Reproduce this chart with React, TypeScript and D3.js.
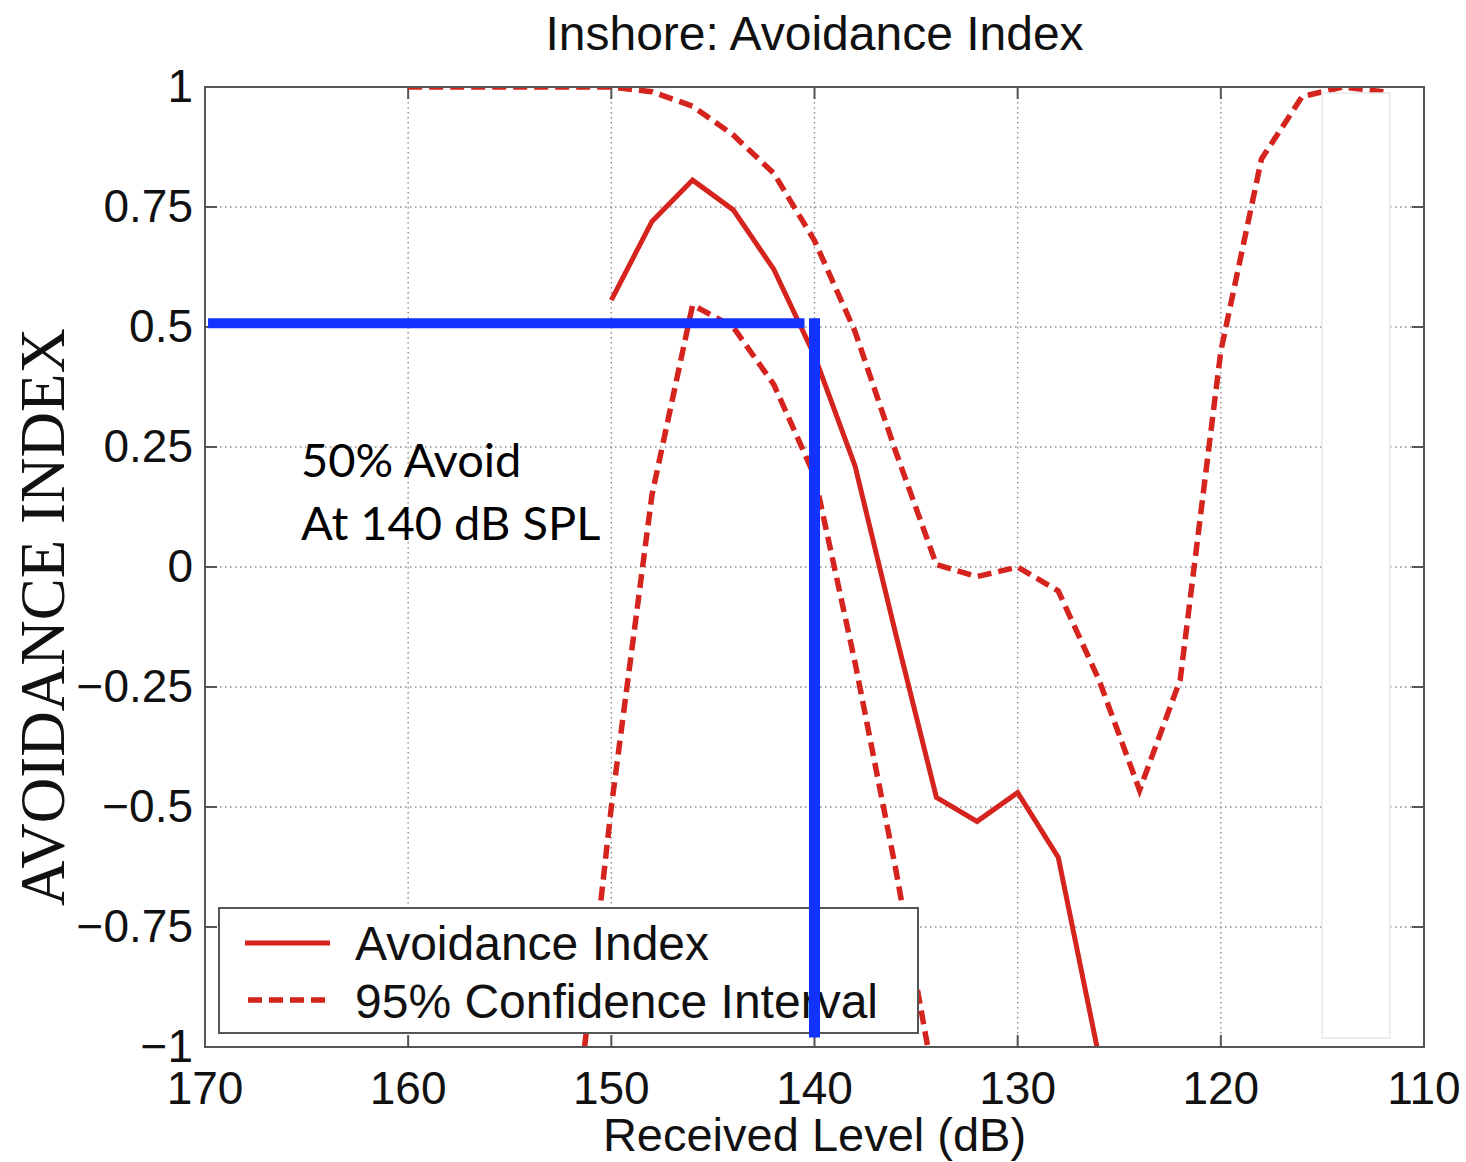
import React from "react";
import * as d3 from "d3";

const xTicks = [170, 160, 150, 140, 130, 120, 110];
const yTicks = [1, 0.75, 0.5, 0.25, 0, -0.25, -0.5, -0.75, -1];
const yTickLabels = ["1", "0.75", "0.5", "0.25", "0", "\u22120.25", "\u22120.5", "\u22120.75", "\u22121"];

const aiLevels = [150, 148, 146, 144, 142, 140, 138, 136, 134, 132, 130, 128, 126];
const aiValues = [0.556, 0.72, 0.806, 0.744, 0.62, 0.44, 0.21, -0.14, -0.48, -0.53, -0.47, -0.605, -1.02];

const ciUpperLevels = [160, 158, 156, 154, 152, 150, 148, 146, 144, 142, 140, 138, 136, 134, 132, 130, 128, 126, 124, 122, 120, 118, 116, 114, 112];
const ciUpperValues = [1, 1, 1, 1, 1, 1, 0.99, 0.96, 0.9, 0.82, 0.68, 0.49, 0.24, 0.005, -0.02, 0.0, -0.05, -0.235, -0.465, -0.235, 0.45, 0.85, 0.98, 1.0, 0.99];

const ciLowerLevels = [152, 150, 148, 146, 144, 142, 140, 138, 136, 134];
const ciLowerValues = [-1.26, -0.5, 0.15, 0.546, 0.5, 0.38, 0.19, -0.2, -0.63, -1.1];

const title = "Inshore: Avoidance Index";
const xLabel = "Received Level (dB)";
const yLabel = "AVOIDANCE INDEX";
const legendLabels = ["Avoidance Index", "95% Confidence Interval"];
const annotLines = ["50% Avoid", "At 140 dB SPL"];
const markLevel = 140;
const markValue = 0.508;
const markBottom = -0.98;

const W = 1466;
const H = 1162;
const L = 205, R = 1424, T = 87, B = 1047;
const RED = "#d5231d";
const BLUE = "#1232ff";
const SANS = "'Liberation Sans', Arial, Helvetica, sans-serif";

export default function App() {
  const x = d3.scaleLinear().domain([170, 110]).range([L, R]);
  const y = d3.scaleLinear().domain([-1, 1]).range([B, T]);
  const line = d3.line<[number, number]>().x((d) => x(d[0])).y((d) => y(d[1]));
  const ai = line(aiLevels.map((l, i) => [l, aiValues[i]]));
  const up = line(ciUpperLevels.map((l, i) => [l, ciUpperValues[i]]));
  const lo = line(ciLowerLevels.map((l, i) => [l, ciLowerValues[i]]));
  const tick = 12;

  return (
    <svg width={W} height={H} style={{ position: "absolute", left: 0, top: 0, background: "#fff" }}>
      <defs>
        <clipPath id="plot">
          <rect x={L} y={T} width={R - L} height={B - T} />
        </clipPath>
      </defs>
      <rect x={0} y={0} width={W} height={H} fill="#fff" />
      {xTicks.slice(1, -1).map((t) => (
        <line key={"gx" + t} x1={x(t)} x2={x(t)} y1={T} y2={B} stroke="#8a8a8a" strokeWidth={1.4} strokeDasharray="1.5,3.5" />
      ))}
      {yTicks.slice(1, -1).map((t) => (
        <line key={"gy" + t} x1={L} x2={R} y1={y(t)} y2={y(t)} stroke="#8a8a8a" strokeWidth={1.4} strokeDasharray="1.5,3.5" />
      ))}
      {xTicks.map((t) => (
        <g key={"tx" + t}>
          <line x1={x(t)} x2={x(t)} y1={B} y2={B - tick} stroke="#555" strokeWidth={2} />
          <line x1={x(t)} x2={x(t)} y1={T} y2={T + tick} stroke="#555" strokeWidth={2} />
        </g>
      ))}
      {yTicks.map((t) => (
        <g key={"ty" + t}>
          <line x1={L} x2={L + tick} y1={y(t)} y2={y(t)} stroke="#555" strokeWidth={2} />
          <line x1={R} x2={R - tick} y1={y(t)} y2={y(t)} stroke="#555" strokeWidth={2} />
        </g>
      ))}
      <g clipPath="url(#plot)" fill="none" stroke={RED} strokeLinejoin="miter">
        <path d={up || ""} strokeWidth={5.5} strokeDasharray="14,7" />
        <path d={lo || ""} strokeWidth={5.5} strokeDasharray="14,7" />
        <path d={ai || ""} strokeWidth={5} />
      </g>
      <rect x={L} y={T} width={R - L} height={B - T} fill="none" stroke="#555" strokeWidth={2} />
      {xTicks.map((t) => (
        <text key={"lx" + t} x={x(t)} y={1104} textAnchor="middle" fontFamily={SANS} fontSize={46} fill="#111">
          {t}
        </text>
      ))}
      {yTicks.map((t, i) => (
        <text key={"ly" + t} x={193} y={y(t) + 15} textAnchor="end" fontFamily={SANS} fontSize={46} fill="#111">
          {yTickLabels[i]}
        </text>
      ))}
      <text x={(L + R) / 2} y={50} textAnchor="middle" fontFamily={SANS} fontSize={48} fill="#111">
        {title}
      </text>
      <text x={(L + R) / 2} y={1151} textAnchor="middle" fontFamily={SANS} fontSize={47} fill="#111">
        {xLabel}
      </text>
      <text
        transform={`translate(64, 617) rotate(-90)`}
        textAnchor="middle"
        fontFamily="'Liberation Serif', 'Times New Roman', serif"
        fontSize={63}
        fill="#111"
      >
        {yLabel}
      </text>
      <rect x={219} y={908} width={699} height={125} fill="#fff" stroke="#555" strokeWidth={2} />
      <line x1={245} x2={330} y1={943} y2={943} stroke={RED} strokeWidth={5} />
      <line x1={248} x2={330} y1={1000} y2={1000} stroke={RED} strokeWidth={5.5} strokeDasharray="14,7" />
      <text x={355} y={960} fontFamily={SANS} fontSize={48} fill="#111">{legendLabels[0]}</text>
      <text x={355} y={1018} fontFamily={SANS} fontSize={48} fill="#111">{legendLabels[1]}</text>
      <rect x={1322} y={93} width={68} height={945} fill="#fff" stroke="#e6e6e6" strokeWidth={1.5} />
      <line x1={x(169.85)} x2={x(markLevel) - 10} y1={y(markValue)} y2={y(markValue)} stroke={BLUE} strokeWidth={10} />
      <line x1={x(markLevel)} x2={x(markLevel)} y1={y(markValue) - 5} y2={y(markBottom)} stroke={BLUE} strokeWidth={11} />
      <text x={301} y={477} fontFamily="Lato, 'Open Sans', sans-serif" fontSize={47} fill="#000">{annotLines[0]}</text>
      <text x={301} y={540} fontFamily="Lato, 'Open Sans', sans-serif" fontSize={47} fill="#000">{annotLines[1]}</text>
    </svg>
  );
}
